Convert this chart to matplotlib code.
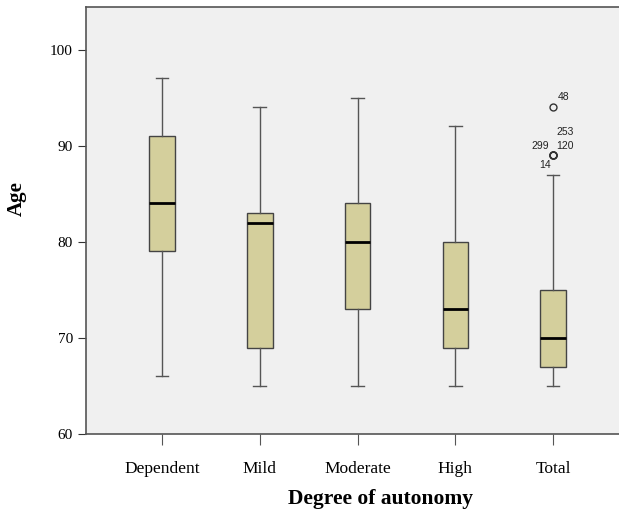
import matplotlib
matplotlib.use('Agg')
import matplotlib.pyplot as plt

# Box plot of age by degree of autonomy (SPSS-style)
categories = ['Dependent', 'Mild', 'Moderate', 'High', 'Total']
whislo = [66, 65, 65, 65, 65]
q1 = [79, 69, 73, 69, 67]
med = [84, 82, 80, 73, 70]
q3 = [91, 83, 84, 80, 75]
whishi = [97, 94, 95, 92, 87]
fliers = [[], [], [], [], [94, 89, 89, 89, 89]]

outlier_ages = [94, 89, 89, 89, 89]
outlier_ids = ['48', '253', '299', '120', '14']
# label placement around the circle: (dx, dy) in points, horizontal alignment
label_pos = [((3.6, 7.2), 'left'), ((2.2, 16.6), 'left'), ((-2.6, 6.5), 'right'),
             ((2.2, 6.5), 'left'), ((-10, -7.2), 'left')]

stats = []
for i, c in enumerate(categories):
    stats.append({'label': c, 'whislo': whislo[i], 'q1': q1[i], 'med': med[i],
                  'q3': q3[i], 'whishi': whishi[i], 'fliers': fliers[i]})

fig = plt.figure(figsize=(6.19, 5.15), dpi=100)
ax = fig.add_axes([0.139, 0.157, 0.861, 0.829])
ax.set_facecolor('#f0f0f0')

ax.bxp(stats, positions=range(1, 6), widths=0.26, patch_artist=True,
       boxprops=dict(facecolor='#d4cf9c', edgecolor='#444444', linewidth=1),
       medianprops=dict(color='black', linewidth=2),
       whiskerprops=dict(color='#555555', linewidth=1),
       capprops=dict(color='#555555', linewidth=1),
       capwidths=0.13,
       flierprops=dict(marker='o', markerfacecolor='none', markeredgecolor='#333333',
                       markersize=5, markeredgewidth=1))

for age, lab, (off, ha) in zip(outlier_ages, outlier_ids, label_pos):
    ax.annotate(lab, xy=(5, age), xytext=off, textcoords='offset points',
                ha=ha, va='center', fontsize=7.5, family='Liberation Sans',
                color='#222222')

ax.set_xlim(0.222, 5.675)
ax.set_ylim(60, 104.4)
ax.set_yticks([60, 70, 80, 90, 100])
ax.set_xticks(range(1, 6))
ax.set_xticklabels(categories)

ax.spines['right'].set_visible(False)
for s in ['left', 'bottom', 'top']:
    ax.spines[s].set_color('#555555')
    ax.spines[s].set_linewidth(1.2)
ax.tick_params(axis='y', direction='out', length=6, color='#333333', labelsize=11)
ax.tick_params(axis='x', direction='out', length=8, color='#555555', labelsize=12.5, pad=11)
for t in ax.get_xticklabels() + ax.get_yticklabels():
    t.set_family('Liberation Serif')

ax.set_xlabel('Degree of autonomy', family='Liberation Serif', fontweight='bold',
              fontsize=15.5, labelpad=9)
ax.xaxis.label.set_x(0.552)
ax.set_ylabel('Age', family='Liberation Serif', fontweight='bold', fontsize=15, labelpad=17)
ax.yaxis.label.set_y(0.552)

fig.savefig('out.png', dpi=100)
